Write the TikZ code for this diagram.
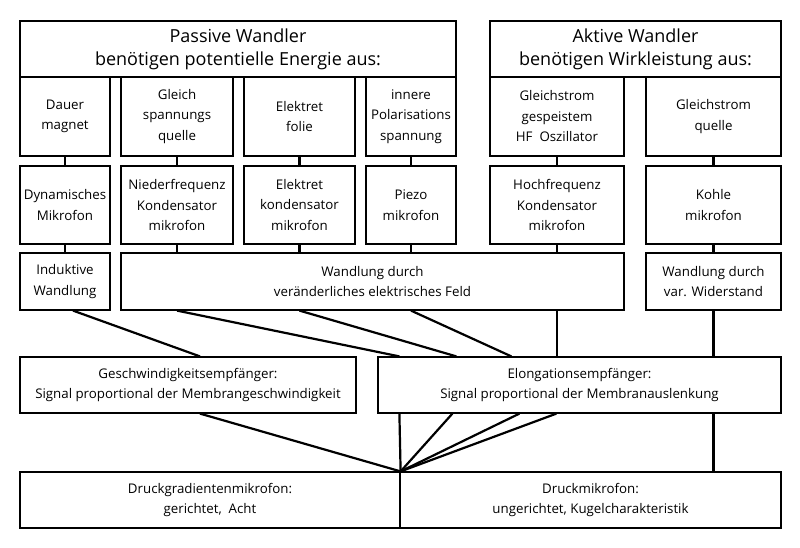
\documentclass[tikz,border=0pt]{standalone}
\usepackage{fontspec}
\setmainfont{Open Sans}
\begin{document}
\begin{tikzpicture}[x=1pt,y=1pt,
  box/.style={draw=black, line width=1.2pt, inner sep=0pt, align=center,
    font=\fontsize{13.3}{20.5}\selectfont},
  tbox/.style={box, font=\fontsize{18}{23}\selectfont},
  conn/.style={line width=2.2pt},
  vconn/.style={line width=2.2pt}]
\useasboundingbox (0,0) rectangle (800,-547);
% row 1
\node[tbox, minimum width=436, minimum height=56] (passive) at (238,-49) {Passive Wandler\\benötigen potentielle Energie aus:};
\node[tbox, minimum width=291, minimum height=56] (aktive) at (635.5,-49) {Aktive Wandler\\benötigen Wirkleistung aus:};
% row 2
\node[box, minimum width=90, minimum height=79] (dauer) at (65,-116.5) {Dauer\\magnet};
\node[box, minimum width=112, minimum height=79] (gleich) at (177,-116.5) {Gleich\\spannungs\\quelle};
\node[box, minimum width=111, minimum height=79] (folie) at (299.5,-116.5) {Elektret\\folie};
\node[box, minimum width=90, minimum height=79] (innere) at (411,-116.5) {innere\\Polarisations\\spannung};
\node[box, minimum width=134, minimum height=79] (gosz) at (557,-116.5) {Gleichstrom\\gespeistem\\HF~~Oszillator};
\node[box, minimum width=135, minimum height=79] (gquelle) at (713.5,-116.5) {Gleichstrom\\quelle};
% row 3
\node[box, minimum width=90, minimum height=78] (dyn) at (65,-205) {Dynamisches\\Mikrofon};
\node[box, minimum width=112, minimum height=78] (nf) at (177,-205) {Niederfrequenz\\Kondensator\\mikrofon};
\node[box, minimum width=111, minimum height=78] (ekm) at (299.5,-205) {Elektret\\kondensator\\mikrofon};
\node[box, minimum width=90, minimum height=78] (piezo) at (411,-205) {Piezo\\mikrofon};
\node[box, minimum width=134, minimum height=78] (hf) at (557,-205) {Hochfrequenz\\Kondensator\\mikrofon};
\node[box, minimum width=135, minimum height=78] (kohle) at (713.5,-205) {Kohle\\mikrofon};
% row 4
\node[box, minimum width=90, minimum height=57] (ind) at (65,-281.5) {Induktive\\Wandlung};
\node[box, minimum width=503, minimum height=57] (feld) at (372.5,-281.5) {Wandlung durch\\veränderliches elektrisches Feld};
\node[box, minimum width=135, minimum height=57] (wid) at (713.5,-281.5) {Wandlung durch\\var. Widerstand};
% row 5
\node[box, minimum width=336, minimum height=56] (gesch) at (188,-385) {Geschwindigkeitsempfänger:\\Signal proportional der Membrangeschwindigkeit};
\node[box, minimum width=403, minimum height=56] (elong) at (579.5,-385) {Elongationsempfänger:\\Signal proportional der Membranauslenkung};
% row 6
\node[box, minimum width=380, minimum height=56] (dgrad) at (210,-500) {Druckgradientenmikrofon:\\gerichtet,~~Acht};
\node[box, minimum width=381, minimum height=56] (druck) at (590.5,-500) {Druckmikrofon:\\ungerichtet, Kugelcharakteristik};
\coordinate (m) at (dgrad.north east);
% connectors row2-row3
\foreach \a/\b in {dauer/dyn, gleich/nf, folie/ekm, innere/piezo, gosz/hf, gquelle/kohle}
  \draw[vconn] (\a.south) -- (\b.north);
% row3-row4
\draw[vconn] (dyn.south) -- (ind.north);
\foreach \a in {nf, ekm, piezo, hf}
  \draw[vconn] (\a.south) -- (\a.south |- feld.north);
\draw[vconn] (kohle.south) -- (wid.north);
% row4-row5
\draw[conn] ([xshift=8]ind.south) -- ([xshift=12]gesch.north);
\draw[conn] (nf.south |- feld.south) -- ([xshift=22]elong.north west);
\draw[conn] (ekm.south |- feld.south) -- ([xshift=79]elong.north west);
\draw[conn] (piezo.south |- feld.south) -- ([xshift=134]elong.north west);
\draw[conn] (hf.south |- feld.south) -- (hf.south |- elong.north);
\draw[conn] (wid.south) -- (wid.south |- elong.north);
% row5-row6
\draw[conn] ([xshift=12]gesch.south) -- (m);
\draw[conn] ([xshift=22]elong.south west) -- (m);
\draw[conn] ([xshift=75]elong.south west) -- (m);
\draw[conn] ([xshift=142]elong.south west) -- (m);
\draw[conn] ([xshift=179]elong.south west) -- (m);
\draw[conn] (wid.south |- elong.south) -- (wid.south |- druck.north);
\end{tikzpicture}
\end{document}
